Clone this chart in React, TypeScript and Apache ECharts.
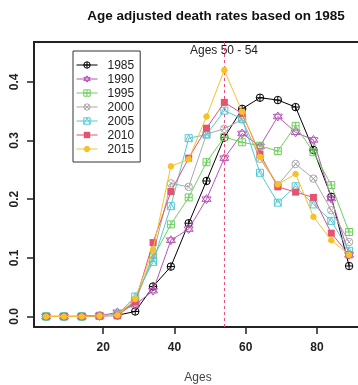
import React, { useEffect, useRef } from "react";
import * as echarts from "echarts";

const ages = [4, 9, 14, 19, 24, 29, 34, 39, 44, 49, 54, 59, 64, 69, 74, 79, 84, 89];
const years = ["1985", "1990", "1995", "2000", "2005", "2010", "2015"];
const rates1985 = [0, 0, 0, 0.001, 0.002, 0.0085, 0.051, 0.085, 0.159, 0.231, 0.305, 0.354, 0.373, 0.369, 0.357, 0.284, 0.204, 0.086];
const rates1990 = [0, 0, 0, 0.001, 0.007, 0.02, 0.044, 0.13, 0.149, 0.2, 0.27, 0.312, 0.29, 0.341, 0.314, 0.301, 0.201, 0.105];
const rates1995 = [0, 0, 0, 0.001, 0.003, 0.027, 0.1, 0.157, 0.203, 0.263, 0.306, 0.297, 0.291, 0.282, 0.325, 0.28, 0.224, 0.144];
const rates2000 = [0, 0, 0, 0.001, 0.003, 0.025, 0.105, 0.227, 0.221, 0.311, 0.32, 0.336, 0.269, 0.224, 0.26, 0.235, 0.181, 0.127];
const rates2005 = [0, 0, 0, 0.001, 0.003, 0.034, 0.093, 0.188, 0.304, 0.31, 0.351, 0.337, 0.245, 0.194, 0.222, 0.191, 0.163, 0.112];
const rates2010 = [0, 0, 0, 0.001, 0.001, 0.025, 0.126, 0.213, 0.27, 0.321, 0.365, 0.346, 0.277, 0.221, 0.212, 0.203, 0.142, 0.105];
const rates2015 = [0, 0, 0, 0.001, 0.002, 0.03, 0.114, 0.256, 0.268, 0.341, 0.42, 0.349, 0.272, 0.225, 0.243, 0.17, 0.13, 0.105];
const allRates = [rates1985, rates1990, rates1995, rates2000, rates2005, rates2010, rates2015];
const yTicks = [0, 0.1, 0.2, 0.3, 0.4];
const xTicks = [20, 40, 60, 80];
const highlightAge = 54;
const titleText = "Age adjusted death rates based on 1985";
const highlightText = "Ages 50 - 54";
const xName = "Ages";

const colors = ["#000000", "#B955B6", "#6CCF5C", "#A9A9A9", "#55C8D4", "#E2546F", "#F5C22A"];
const FONT = "Liberation Sans, Arial, Helvetica, sans-serif";

const SYM_CPLUS = "path://M10,0A10,10 0 1,1 10,20A10,10 0 1,1 10,0Z M0,10L20,10 M10,0L10,20";
const SYM_STAR = "path://M10,0L18.66,15L1.34,15Z M10,20L18.66,5L1.34,5Z";
const SYM_SQPLUS = "path://M0,0L20,0L20,20L0,20Z M10,0L10,20 M0,10L20,10";
const SYM_CX = "path://M10,0A10,10 0 1,1 10,20A10,10 0 1,1 10,0Z M2.93,2.93L17.07,17.07 M17.07,2.93L2.93,17.07";
const SYM_SQTRI = "path://M0,0L20,0L20,20L0,20Z M0,20L10,0L20,20";
const symbols = [SYM_CPLUS, SYM_STAR, SYM_SQPLUS, SYM_CX, SYM_SQTRI, "rect", "circle"];
const symbolSizes = [7.5, 9, 7, 7.5, 7, 7, 6.5];

export default function App() {
  const ref = useRef<HTMLDivElement>(null);
  useEffect(() => {
    if (!ref.current) return;
    const chart = echarts.init(ref.current, null, { renderer: "svg" });
    const styleFor = (i: number) =>
      i >= 5
        ? { color: colors[i] }
        : { color: "rgba(0,0,0,0)", borderColor: colors[i], borderWidth: 1 };
    const series: any[] = years.map((y, i) => {
      const s: any = {
        name: y,
        type: "line",
        data: ages.map((a, k) => [a, allRates[i][k]]),
        symbol: symbols[i],
        symbolSize: symbolSizes[i],
        showAllSymbol: true,
        lineStyle: { color: colors[i], width: 1 },
        itemStyle: styleFor(i),
        emphasis: { disabled: true },
        z: 2 + i,
      };
      if (i === years.length - 1) {
        s.markLine = {
          silent: true,
          symbol: "none",
          label: { show: false },
          lineStyle: { color: "#E8507A", type: [3, 3], width: 1 },
          data: [{ xAxis: highlightAge }],
        };
      }
      return s;
    });
    const axisColor = "#222";
    chart.setOption({
      animation: false,
      grid: { left: 34, right: 0, top: 42, bottom: 58 },
      xAxis: {
        type: "value",
        min: 0.6,
        max: 91.5,
        axisLine: { show: true, onZero: false, lineStyle: { color: axisColor, width: 2 } },
        axisTick: { show: true, customValues: xTicks, length: 7, lineStyle: { color: axisColor, width: 1.5 } },
        axisLabel: { customValues: xTicks, margin: 14, fontWeight: "bold", fontSize: 12, color: axisColor, fontFamily: FONT },
        splitLine: { show: false },
      },
      yAxis: {
        type: "value",
        min: -0.018,
        max: 0.468,
        axisLine: { show: true, onZero: false, lineStyle: { color: axisColor, width: 2 } },
        axisTick: { show: true, customValues: yTicks, length: 7, lineStyle: { color: axisColor, width: 1.5 } },
        axisLabel: {
          customValues: yTicks,
          rotate: 90,
          margin: 14,
          fontWeight: "bold",
          fontSize: 12,
          color: axisColor,
          fontFamily: FONT,
          formatter: (v: number) => v.toFixed(1),
        },
        splitLine: { show: false },
      },
      legend: {
        orient: "vertical",
        left: 73,
        top: 51,
        padding: [7, 6, 6, 3],
        itemGap: 0,
        itemWidth: 21,
        itemHeight: 8,
        borderColor: "#333",
        borderWidth: 1,
        borderRadius: 0,
        lineStyle: { width: 1 },
        data: years.map((y, i) => ({
          name: y,
          itemStyle: styleFor(i),
          lineStyle: { color: colors[i], width: 1 },
        })),
        textStyle: { fontSize: 12, lineHeight: 14, color: "#222", fontFamily: FONT, padding: [0, 0, 0, 5] },
      },
      graphic: [
        { type: "line", shape: { x1: 33, y1: 42, x2: 358, y2: 42 }, style: { stroke: axisColor, lineWidth: 2 } },
        {
          type: "text", x: 216, y: 15,
          style: { text: titleText, textAlign: "center", textVerticalAlign: "middle", font: `bold 13.5px ${FONT}`, fill: "#111" },
        },
        {
          type: "text", x: 224, y: 50,
          style: { text: highlightText, textAlign: "center", textVerticalAlign: "middle", font: `12px ${FONT}`, fill: "#222" },
        },
        {
          type: "text", x: 198, y: 377,
          style: { text: xName, textAlign: "center", textVerticalAlign: "middle", font: `12px ${FONT}`, fill: "#444" },
        },
      ],
      series,
    });
    return () => chart.dispose();
  }, []);
  return <div ref={ref} style={{ position: "fixed", left: 0, top: 0, width: 358, height: 385 }} />;
}
